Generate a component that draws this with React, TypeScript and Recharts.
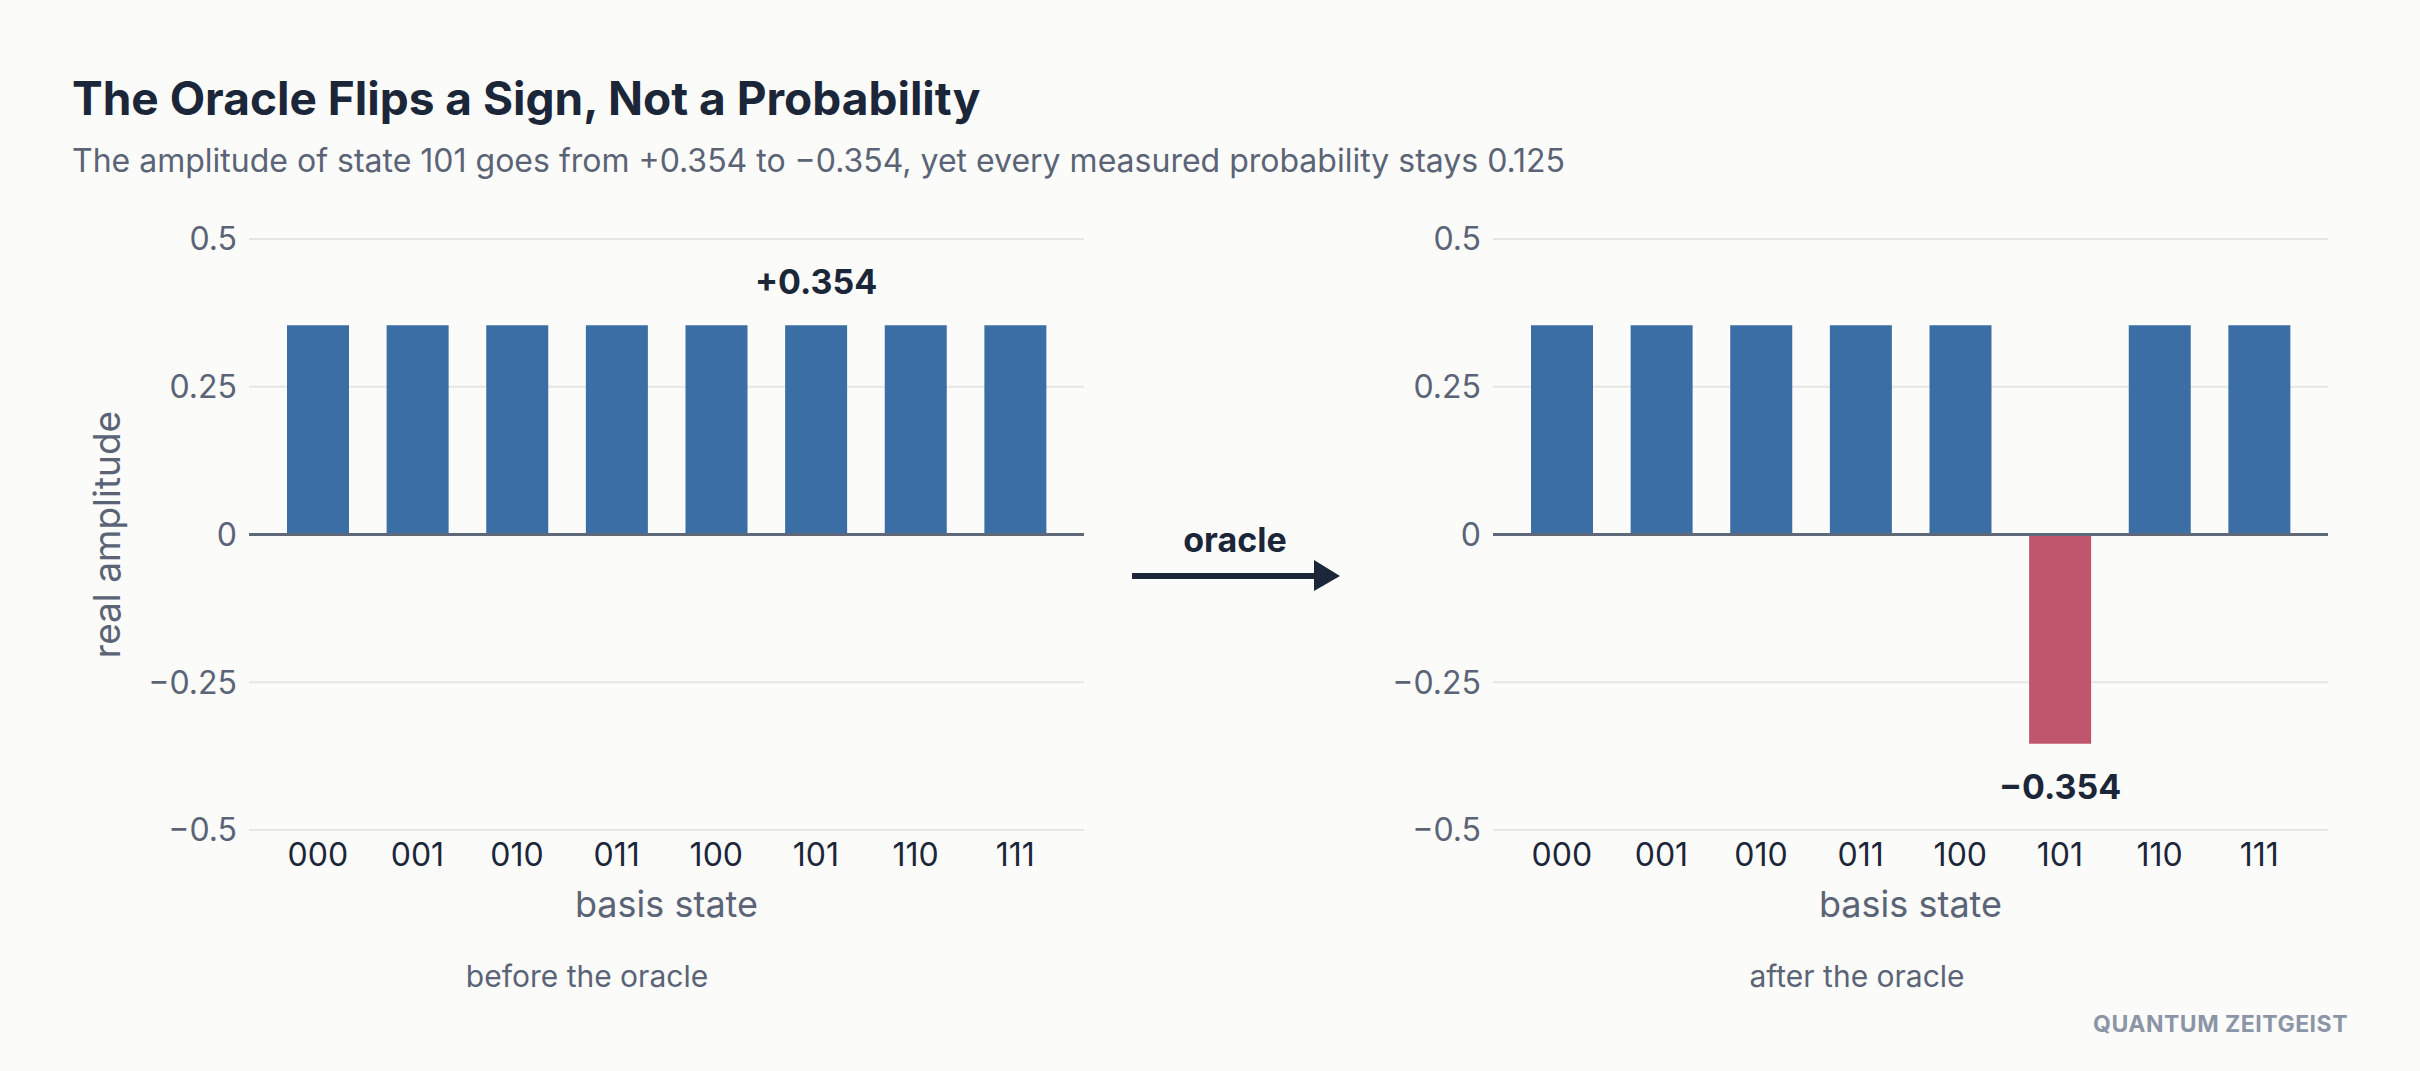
import React from 'react'
import {
  BarChart,
  Bar,
  Cell,
  XAxis,
  YAxis,
  CartesianGrid,
  ReferenceLine,
  LabelList,
} from 'recharts'

// basis states of a 3-qubit register
const STATES = ['000', '001', '010', '011', '100', '101', '110', '111']
// real amplitudes before / after the oracle marks state 101
const BEFORE = [0.354, 0.354, 0.354, 0.354, 0.354, 0.354, 0.354, 0.354]
const AFTER = [0.354, 0.354, 0.354, 0.354, 0.354, -0.354, 0.354, 0.354]
const MARKED = '101'
const Y_TICKS = [-0.5, -0.25, 0, 0.25, 0.5]

const BLUE = '#3b6ea5'
const RED = '#c0566e'
const INK = '#1c2639'
const MUTED = '#5b6477'
const FONT = 'Inter, "Noto Sans", sans-serif'

const W = 2420
const H = 1071

const minus = (s: string) => s.replace('-', '\u2212')
const signed = (v: number) => (v >= 0 ? `+${v.toFixed(3)}` : `\u2212${Math.abs(v).toFixed(3)}`)

function toData(values: number[]) {
  return STATES.map((s, i) => ({
    state: s,
    amp: values[i],
    note: s === MARKED ? signed(values[i]) : '',
  }))
}

interface PanelProps {
  values: number[]
  left: number
  width: number
  marginLeft: number
  marginRight: number
  yWidth: number
  yLabel?: string
}

function Panel({ values, left, width, marginLeft, marginRight, yWidth, yLabel }: PanelProps) {
  const data = toData(values)
  return (
    <div style={{ position: 'absolute', left, top: 0 }}>
      <BarChart
        width={width}
        height={H}
        data={data}
        margin={{ top: 239, right: marginRight, bottom: 181, left: marginLeft }}
        barSize={62}
      >
        <CartesianGrid vertical={false} stroke="#e6e6e3" strokeWidth={2} />
        <XAxis
          dataKey="state"
          padding={{ left: 19, right: 19 }}
          axisLine={false}
          tickLine={false}
          tickSize={0}
          tickMargin={13}
          height={60}
          tick={{ fontSize: 32, fill: INK, fontFamily: FONT }}
          label={{ value: 'basis state', position: 'bottom', offset: 1, fontSize: 36, fill: MUTED, fontFamily: FONT }}
        />
        <YAxis
          type="number"
          domain={[-0.5, 0.5]}
          ticks={Y_TICKS}
          width={yWidth}
          axisLine={false}
          tickLine={false}
          tickSize={0}
          tickMargin={12}
          tickFormatter={(v: number) => minus(String(v))}
          tick={{ fontSize: 32, fill: MUTED, fontFamily: FONT }}
          label={
            yLabel
              ? {
                  value: yLabel,
                  angle: -90,
                  position: 'insideLeft',
                  offset: 47,
                  fontSize: 37,
                  fill: MUTED,
                  fontFamily: FONT,
                  style: { textAnchor: 'middle' },
                }
              : undefined
          }
        />
        <ReferenceLine y={0} stroke="#5f6878" strokeWidth={3} />
        <Bar dataKey="amp" isAnimationActive={false}>
          {data.map((d) => (
            <Cell key={d.state} fill={d.amp < 0 ? RED : BLUE} />
          ))}
          <LabelList
            dataKey="note"
            position="top"
            offset={31}
            style={{ fontSize: 34, fontWeight: 700, fill: INK, fontFamily: FONT }}
          />
        </Bar>
      </BarChart>
    </div>
  )
}

export default function App() {
  return (
    <div
      style={{
        position: 'absolute',
        left: 0,
        top: 0,
        width: W,
        height: H,
        background: '#fbfbf9',
        fontFamily: FONT,
        overflow: 'hidden',
      }}
    >
      <Panel values={BEFORE} left={0} width={1100} marginLeft={60} marginRight={16} yWidth={189} yLabel="real amplitude" />
      <Panel values={AFTER} left={1380} width={1040} marginLeft={10} marginRight={92} yWidth={103} />

      {/* titles, captions, arrow, watermark */}
      <svg width={W} height={H} style={{ position: 'absolute', left: 0, top: 0, pointerEvents: 'none' }}>
        <text x={72} y={115} fontSize={46} fontWeight={700} fill={INK} fontFamily={FONT}>
          The Oracle Flips a Sign, Not a Probability
        </text>
        <text x={72} y={172} fontSize={32} fill={MUTED} fontFamily={FONT}>
          The amplitude of state 101 goes from +0.354 to {'\u2212'}0.354, yet every measured probability stays 0.125
        </text>
        <text x={587} y={987} fontSize={30} fill={MUTED} fontFamily={FONT} textAnchor="middle">
          before the oracle
        </text>
        <text x={1857} y={987} fontSize={30} fill={MUTED} fontFamily={FONT} textAnchor="middle">
          after the oracle
        </text>
        <text x={1235} y={552} fontSize={34} fontWeight={700} fill={INK} fontFamily={FONT} textAnchor="middle">
          oracle
        </text>
        <line x1={1132} y1={576} x2={1316} y2={576} stroke={INK} strokeWidth={6} />
        <polygon points="1314,560 1340,576 1314,591" fill={INK} />
        <text
          x={2348}
          y={1032}
          fontSize={23}
          fontWeight={700}
          fill="#8b95a7"
          fontFamily={FONT}
          textAnchor="end"
          letterSpacing={0.5}
        >
          QUANTUM ZEITGEIST
        </text>
      </svg>
    </div>
  )
}
